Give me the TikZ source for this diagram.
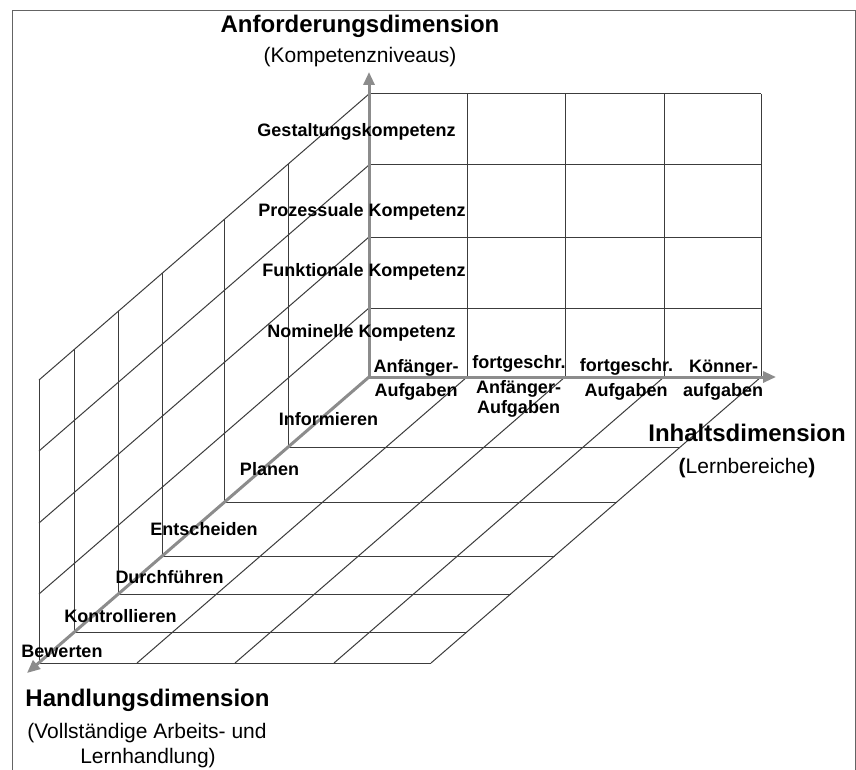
\documentclass[tikz,border=0pt]{standalone}
\usepackage{fontspec}
\setmainfont{Liberation Sans}
\usetikzlibrary{arrows.meta}
\definecolor{axisgray}{RGB}{140,140,140}
\definecolor{gridcol}{RGB}{60,60,60}
\definecolor{framecol}{RGB}{100,100,100}
\begin{document}
\begin{tikzpicture}[x=1pt,y=-1pt,
  gridline/.style={draw=gridcol,line width=1pt},
  axisarrow/.style={draw=axisgray,line width=3pt,-{Triangle[length=13pt,width=11pt]}},
  lbl/.style={font=\fontsize{18}{20}\selectfont\bfseries,anchor=base,inner sep=0pt,text=black},
  ttl/.style={font=\fontsize{24}{28}\selectfont\bfseries,anchor=base,inner sep=0pt,text=black},
  sub/.style={font=\fontsize{21}{24}\selectfont,anchor=base,inner sep=0pt,text=black},
]
\useasboundingbox (0,0) rectangle (856,770);
\fill[white] (0,0) rectangle (856,770);
\draw[framecol,line width=1pt] (12,780) -- (12,11) -- (855,11) -- (855,780);

% back wall grid
\foreach \y in {94,165,237,308} \draw[gridline] (369,\y) -- (761,\y);
\foreach \x in {467,565,664,761} \draw[gridline] (\x,94) -- (\x,377);
% left wall slanted lines
\foreach \y in {94,165,237,308} \draw[gridline] (369,\y) -- (39,{\y+286});
% floor slanted lines
\foreach \x in {467,565,664,761} \draw[gridline] (\x,377) -- ({\x-330},663);
% wall verticals + floor horizontals (L shapes)
\foreach \xc/\yc in {288.2/447, 224.8/502, 162.5/556, 118.6/594, 74.8/632, 39/663}
  \draw[gridline] (\xc,{\yc-283}) -- (\xc,\yc) -- ({\xc+392},\yc);

% axes
\coordinate (O) at (369,377);
\coordinate (up) at (369,72);
\coordinate (right) at (776,377);
\coordinate (front) at (27,673);
\draw[axisarrow] (O) -- (up);
\draw[axisarrow] (O) -- (right);
\draw[axisarrow] (O) -- (front);

% titles
\node[ttl] (t1) at (360,33) {Anforderungsdimension};
\node[sub] (t1s) at (360,63) {(Kompetenzniveaus)};
\node[ttl] (t2) at (747,441) {Inhaltsdimension};
\node[sub] (t2s) at (747,473.5) {\textbf{(}Lernbereiche\textbf{)}};
\node[ttl] (t3) at (147.5,706.5) {Handlungsdimension};
\node[sub] (t3s) at (147,738.5) {(Vollständige Arbeits- und};
\node[sub] (t3t) at (148,763) {Lernhandlung)};

% competence levels
\node[lbl] (k4) at (356.5,137) {Gestaltungskompetenz};
\node[lbl] (k3) at (362,216) {Prozessuale Kompetenz};
\node[lbl] (k2) at (364,276.5) {Funktionale Kompetenz};
\node[lbl] (k1) at (361.5,337.5) {Nominelle Kompetenz};

% content columns
\node[lbl] (c1a) at (416,372) {Anfänger-};
\node[lbl] (c1b) at (416,396.5) {Aufgaben};
\node[lbl] (c2a) at (519,368.5) {fortgeschr.};
\node[lbl] (c2b) at (518.5,393) {Anfänger-};
\node[lbl] (c2c) at (518.5,413) {Aufgaben};
\node[lbl] (c3a) at (626.5,371.5) {fortgeschr.};
\node[lbl] (c3b) at (626,396.5) {Aufgaben};
\node[lbl] (c4a) at (723.5,372) {Könner-};
\node[lbl] (c4b) at (723,396.5) {aufgaben};

% action steps
\node[lbl] (h1) at (328.5,425) {Informieren};
\node[lbl] (h2) at (269.5,475) {Planen};
\node[lbl] (h3) at (204,535.5) {Entscheiden};
\node[lbl] (h4) at (169.5,583) {Durchführen};
\node[lbl] (h5) at (120.5,622) {Kontrollieren};
\node[lbl] (h6) at (62,657) {Bewerten};
\end{tikzpicture}
\end{document}
